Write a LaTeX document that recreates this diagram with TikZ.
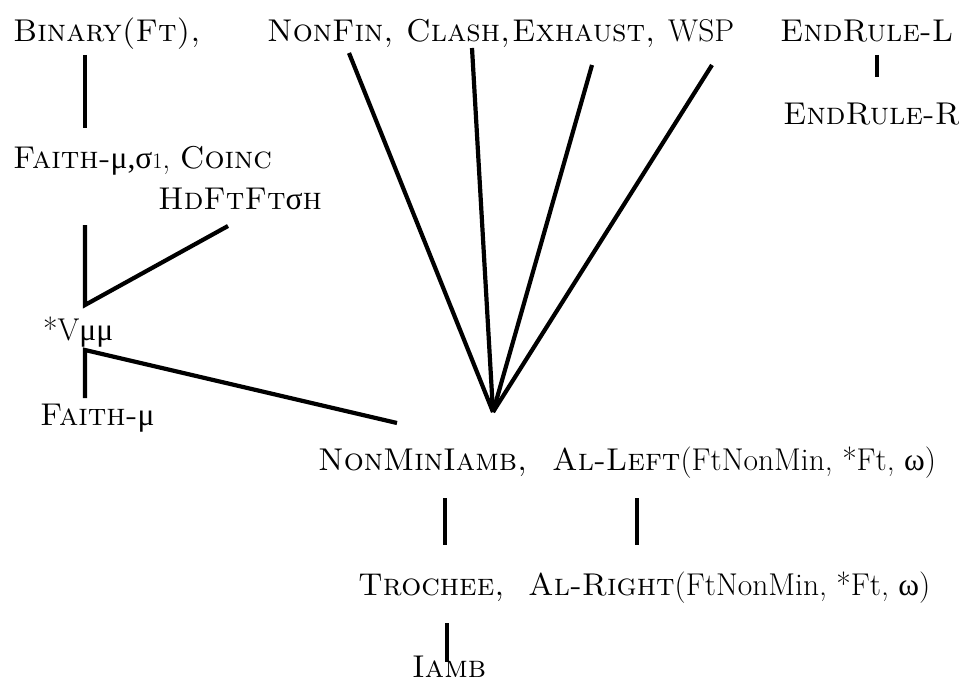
\documentclass[tikz,border=0pt]{standalone}
\usepackage{fontspec}
\newfontfamily\grk{Liberation Serif}
\newcommand{\gk}[1]{{\grk #1}}
\newcommand{\tinyfig}[1]{{\fontsize{22}{24}\selectfont #1}}
\usetikzlibrary{positioning,calc}

\begin{document}
\begin{tikzpicture}[
  x=1pt, y=-1pt,
  font=\fontsize{31.5}{36}\selectfont,
  lbl/.style={inner sep=0pt, anchor=base west},
  con/.style={line width=4.2pt},
]
  \useasboundingbox (0,0) rectangle (959,682);

  \node[lbl] (binary) at (13,42) {\textsc{Binary(Ft),}};
  \node[lbl] (nonfin) at (267,42) {\textsc{NonFin,}};
  \node[lbl] (clash) at (406,42) {\textsc{Clash,}};
  \node[lbl] (exhaust) at (512,42) {\textsc{Exhaust,}};
  \node[lbl] (wsp) at (668,42) {WSP};
  \node[lbl] (endl) at (780,42) {\textsc{EndRule-L}};
  \node[lbl] (endr) at (783,125) {\textsc{EndRule-R}};
  \node[lbl] (faithA) at (13,168) {\textsc{Faith-}\gk{μ,σ}\tinyfig{1}, \textsc{Coinc}};
  \node[lbl] (hdft) at (158,210) {\textsc{HdFtFt}\gk{σ}\textsc{h}};
  \node[lbl] (vmm) at (43,340) {*V\gk{μμ}};
  \node[lbl] (faithB) at (40,425) {\textsc{Faith-}\gk{μ}};
  \node[lbl] (nonmin) at (318,470) {\textsc{NonMinIamb,}};
  \node[lbl] (alleft) at (552,470) {\textsc{Al-Left}(FtNonMin, *Ft, \gk{ω})};
  \node[lbl] (trochee) at (358,595) {\textsc{Trochee,}};
  \node[lbl] (alright) at (528,595) {\textsc{Al-Right}(FtNonMin, *Ft, \gk{ω})};
  \node[lbl] (iamb) at (412,677) {\textsc{Iamb}};

  \coordinate (hub) at ($(nonmin.base west)+(175,-58)$);

  \draw[con] ($(binary.base west)+(72,13)$) -- ($(faithA.base west)+(72,-40)$);
  \draw[con] ($(endl.base west)+(97,13)$) -- ($(endr.base west)+(94,-48)$);
  \draw[con] ($(faithA.base west)+(72,57)$) -- ($(vmm.base west)+(42,-35)$) -- ($(hdft.base west)+(70,16)$);
  \draw[con] ($(faithB.base west)+(45,-27)$) -- ($(vmm.base west)+(42,10)$) -- ($(nonmin.base west)+(79,-47)$);
  \draw[con] ($(nonfin.base west)+(82,11)$) -- (hub);
  \draw[con] ($(clash.base west)+(66,6)$) -- (hub);
  \draw[con] ($(exhaust.base west)+(80,23)$) -- (hub);
  \draw[con] ($(wsp.base west)+(44,23)$) -- (hub);
  \draw[con] ($(nonmin.base west)+(127,28)$) -- ($(trochee.base west)+(87,-50)$);
  \draw[con] ($(alleft.base west)+(85,28)$) -- ($(alright.base west)+(109,-50)$);
  \draw[con] ($(trochee.base west)+(89,28)$) -- ($(iamb.base west)+(35,-15)$);
\end{tikzpicture}
\end{document}
